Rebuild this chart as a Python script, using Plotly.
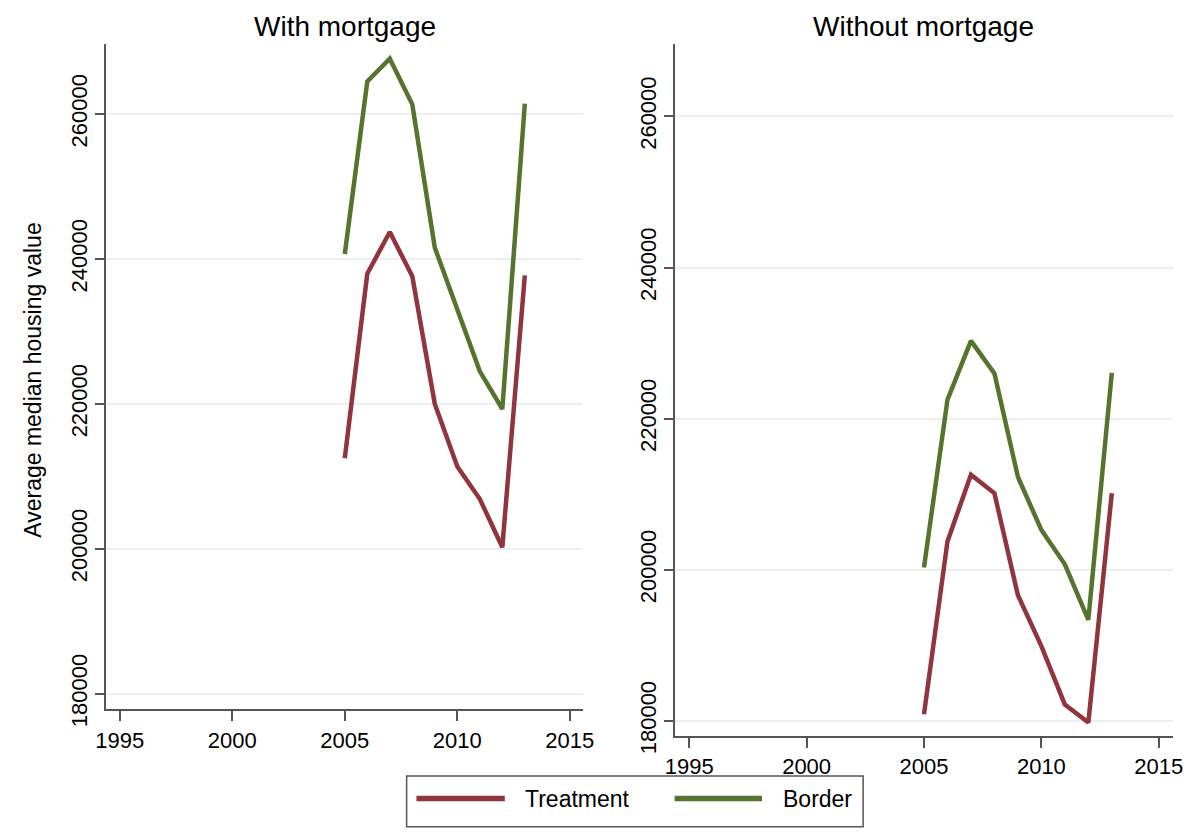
import plotly.graph_objects as go

# Survey years
years = [2005, 2006, 2007, 2008, 2009, 2010, 2011, 2012, 2013]

# Average median housing value, households with a mortgage
with_treatment = [212500, 237980, 243730, 237610, 220000, 211370, 206880, 200230, 237750]
with_border = [240680, 264500, 267650, 261350, 241580, 233000, 224500, 219300, 261450]

# Average median housing value, households without a mortgage
without_treatment = [180870, 203750, 212590, 210130, 196630, 189900, 182160, 179790, 210130]
without_border = [200300, 222500, 230290, 225970, 212290, 205260, 200730, 193370, 226060]

panel_titles = ["With mortgage", "Without mortgage"]
series_names = ["Treatment", "Border"]
y_ticks = [180000, 200000, 220000, 240000, 260000]
y_ticktext = [str(v) for v in y_ticks]
x_ticks = [1995, 2000, 2005, 2010, 2015]

RED = "#90353b"
GREEN = "#55752f"
AXIS = "#555555"
GRID = "#e9eff2"
FONT = "Liberation Sans, Arial, Helvetica, sans-serif"

W, H = 1203, 838

fig = go.Figure()

panels = [
    ("x", "y", with_treatment, with_border),
    ("x2", "y2", without_treatment, without_border),
]
for xa, ya, treat, border in panels:
    fig.add_trace(go.Scatter(
        x=years, y=treat, mode="lines", name=series_names[0],
        line=dict(color=RED, width=4.5), xaxis=xa, yaxis=ya, showlegend=False,
    ))
    fig.add_trace(go.Scatter(
        x=years, y=border, mode="lines", name=series_names[1],
        line=dict(color=GREEN, width=4.5), xaxis=xa, yaxis=ya, showlegend=False,
    ))


def px_x(v):
    return v / W


def px_y(v):
    return 1 - v / H


common_x = dict(
    range=[1994.4, 2015.6], tickvals=x_ticks, ticks="outside", ticklen=10,
    tickwidth=1.5, tickcolor=AXIS, showline=True, linecolor=AXIS, linewidth=1.5,
    showgrid=False, zeroline=False, tickfont=dict(size=22, color="black", family=FONT),
    fixedrange=True,
)
common_y = dict(
    tickvals=y_ticks, ticktext=y_ticktext, ticks="outside", ticklen=9, tickwidth=1.5,
    tickcolor=AXIS, showline=True, linecolor=AXIS, linewidth=1.5, showgrid=True,
    gridcolor=GRID, gridwidth=1.5, zeroline=False, tickangle=-90,
    tickfont=dict(size=22, color="black", family=FONT), fixedrange=True,
)

# Legend: framed box with a line sample and label per series
legend_items = [
    (RED, series_names[0], 413, 503, 522),
    (GREEN, series_names[1], 676, 765, 784),
]
shapes = [
    dict(type="rect", xref="paper", yref="paper", x0=px_x(403), x1=px_x(868),
         y0=px_y(793), y1=px_y(845), line=dict(color=AXIS, width=1.5),
         fillcolor="rgba(0,0,0,0)"),
]
annotations = []
for color, label, lx0, lx1, tx in legend_items:
    shapes.append(dict(type="line", xref="paper", yref="paper", x0=px_x(lx0),
                       x1=px_x(lx1), y0=px_y(816), y1=px_y(816),
                       line=dict(color=color, width=5.5)))
    annotations.append(dict(text=label, x=px_x(tx), y=px_y(817), xref="paper",
                            yref="paper", showarrow=False, xanchor="left",
                            yanchor="middle", font=dict(size=23, color="black")))

annotations += [
    dict(text=panel_titles[0], x=px_x(340.5), y=px_y(27), xref="paper", yref="paper",
         showarrow=False, font=dict(size=28, color="black"), xanchor="center",
         yanchor="middle"),
    dict(text=panel_titles[1], x=px_x(930), y=px_y(27), xref="paper", yref="paper",
         showarrow=False, font=dict(size=28, color="black"), xanchor="center",
         yanchor="middle"),
    dict(text="Average median housing value", x=px_x(22.5), y=px_y(389), xref="paper",
         yref="paper", showarrow=False, textangle=-90, font=dict(size=23, color="black"),
         xanchor="center", yanchor="middle"),
]

fig.update_layout(
    width=W, height=H,
    margin=dict(l=0, r=0, t=0, b=0),
    paper_bgcolor="white", plot_bgcolor="white",
    font=dict(family=FONT, color="black"),
    showlegend=False,
    xaxis=dict(domain=[px_x(97), px_x(583)], anchor="y", **common_x),
    yaxis=dict(domain=[px_y(725), px_y(45)], anchor="x",
               range=[177840, 269670], **common_y),
    xaxis2=dict(domain=[px_x(676.5), px_x(1183.5)], anchor="y2", **common_x),
    yaxis2=dict(domain=[px_y(752), px_y(45)], anchor="x2",
                range=[178020, 269580], **common_y),
    shapes=shapes,
    annotations=annotations,
)

fig.write_html("out.html")
